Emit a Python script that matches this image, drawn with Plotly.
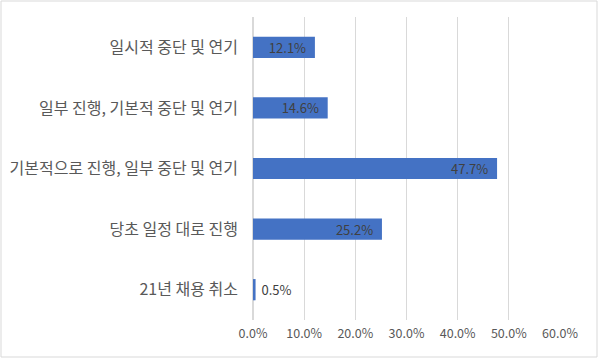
import plotly.graph_objects as go

categories = ["21년 채용 취소", "당초 일정 대로 진행", "기본적으로 진행, 일부 중단 및 연기",
              "일부 진행, 기본적 중단 및 연기", "일시적 중단 및 연기"]
values = [0.5, 25.2, 47.7, 14.6, 12.1]
labels = ["0.5%", "25.2%", "47.7%", "14.6%", "12.1%"]
tick_vals = [0, 10, 20, 30, 40, 50, 60]
tick_text = ["0.0%", "10.0%", "20.0%", "30.0%", "40.0%", "50.0%", "60.0%"]

positions = ["outside" if v < 3 else "inside" for v in values]
NB = "\u00a0"
shown = [(NB + t) if p == "outside" else (t + NB * 2) for t, p in zip(labels, positions)]

fnt = dict(color="#404040", size=13, family="Noto Sans CJK KR")
fig = go.Figure(go.Bar(
    y=categories, x=values, orientation="h",
    marker=dict(color="#4472C4", line=dict(width=0)),
    text=shown, textposition=positions, insidetextanchor="end",
    constraintext="none",
    textfont=fnt, outsidetextfont=fnt, insidetextfont=fnt,
    cliponaxis=False,
))

L, R, T, B = 253, 40, 17, 40
W, H = 600, 360
pw, ph = W - L - R, H - T - B

fig.update_layout(
    width=W, height=H,
    margin=dict(l=L, r=R, t=T, b=B, autoexpand=False),
    paper_bgcolor="white", plot_bgcolor="white",
    bargap=0.65,
    showlegend=False,
    font=dict(family="Noto Sans CJK KR", color="#595959"),
    shapes=[dict(type="rect", xref="paper", yref="paper",
                 x0=(1 - L) / pw, x1=(W - 3 - L) / pw,
                 y0=-(H - 3 - T - ph) / ph, y1=1 + (T - 1) / ph,
                 line=dict(color="#D9D9D9", width=1), layer="below")],
)
fig.update_xaxes(range=[0, 60], tickvals=tick_vals, ticktext=tick_text,
                 showgrid=True, gridcolor="#D9D9D9", gridwidth=1,
                 zeroline=True, zerolinecolor="#D9D9D9", showline=False,
                 tickfont=dict(size=12.5, color="#595959"), ticklabelstandoff=4,
                 automargin=False, fixedrange=True)
fig.update_yaxes(showgrid=False, showline=False, zeroline=False,
                 tickfont=dict(size=16, color="#595959"), ticklabelstandoff=14,
                 automargin=False, fixedrange=True)

fig.write_html("out.html", config={"displayModeBar": False},
               post_script="document.body.style.margin='0';document.body.style.overflow='hidden';")
